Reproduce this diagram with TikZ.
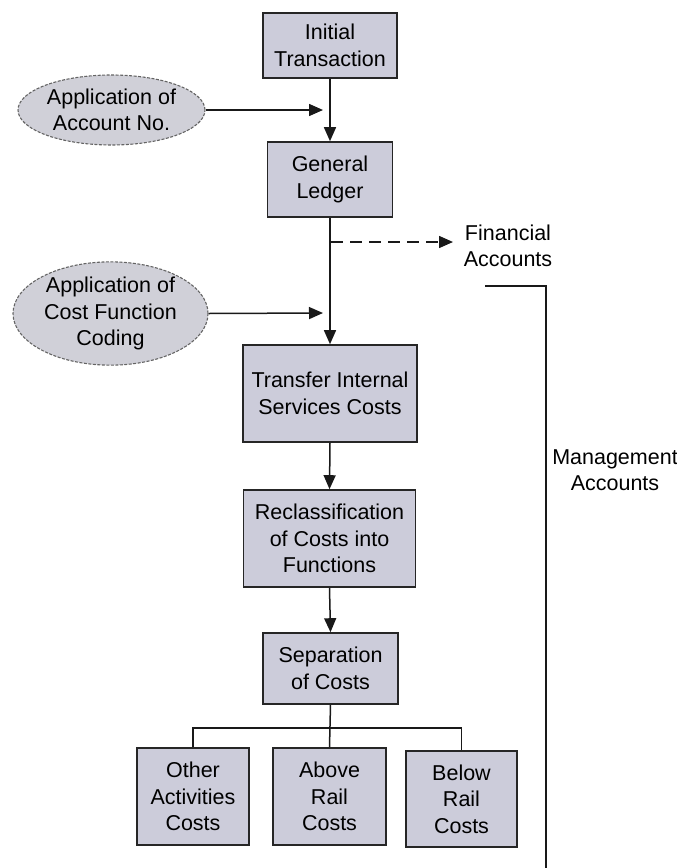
\documentclass[tikz,border=0pt]{standalone}
\usepackage{fontspec}
\setmainfont{Liberation Sans}
\usetikzlibrary{arrows.meta,shapes.geometric}
\definecolor{boxfill}{RGB}{204,204,218}
\definecolor{ellfill}{RGB}{208,208,216}
\definecolor{ellline}{RGB}{100,100,100}
\tikzset{
  procbox/.style={draw=black!85, line width=1.6pt, fill=boxfill, align=center, inner sep=0pt},
  ellbox/.style={ellipse, draw=ellline, dash pattern=on 3pt off 1.5pt, line width=1.1pt, fill=ellfill, align=center, inner sep=0pt},
  plain/.style={align=center, inner sep=0pt},
  conn/.style={line width=1.5pt, black!90},
  arr/.style={conn, -{Triangle[length=14pt,width=12pt]}},
  darr/.style={arr, dash pattern=on 12pt off 7pt},
}
\begin{document}
\begin{tikzpicture}[x=1pt,y=-1pt, font=\fontsize{21.5}{26.5}\selectfont]
\useasboundingbox (0,0) rectangle (677,868);
% process boxes
\node[procbox, minimum width=134pt, minimum height=65pt] (init) at (330,45.5) {Initial\\Transaction};
\node[procbox, minimum width=125pt, minimum height=75pt] (gl) at (330,179.5) {General\\Ledger};
\node[procbox, minimum width=174pt, minimum height=97pt] (tisc) at (330,393.5) {Transfer Internal\\Services Costs};
\node[procbox, minimum width=172pt, minimum height=97pt] (recl) at (329.5,538.5) {Reclassification\\of Costs into\\Functions};
\node[procbox, minimum width=135pt, minimum height=71pt] (sep) at (330.5,668.5) {Separation\\of Costs};
\node[procbox, minimum width=112pt, minimum height=97pt] (oth) at (193,796.5) {Other\\Activities\\Costs};
\node[procbox, minimum width=113pt, minimum height=97pt] (abv) at (329.5,796.5) {Above\\Rail\\Costs};
\node[procbox, minimum width=111pt, minimum height=96pt] (blw) at (461.5,799) {Below\\Rail\\Costs};
% ellipses
\node[ellbox, minimum width=187pt, minimum height=70pt] (ell1) at (111.5,110) {Application of\\Account No.};
\node[ellbox, minimum width=195pt, minimum height=97pt] (ell2) at (110.5,313.5) {Application of\\Cost Function\\Coding};
% plain labels
\node[plain] (fin) at (508,246) {Financial\\Accounts};
\node[plain] (mgmt) at (615,470) {Management\\Accounts};
% coordinates
\coordinate (j1) at (323,110);
\coordinate (j2) at (323,313);
\coordinate (d0) at (331,242);
\coordinate (d1) at (453,242);
\coordinate (m1) at (485,286);
\coordinate (m2) at (546,286);
\coordinate (m3) at (546,868);
\coordinate (bus) at (330.5,728);
% connectors
\draw[arr] (init.south) -- (gl.north);
\draw[arr] (ell1.east) -- (j1);
\draw[arr] (gl.south) -- (tisc.north);
\draw[arr] (ell2.east) -- (j2);
\draw[darr] (d0) -- (d1);
\draw[arr] (tisc.south) -- (recl.north);
\draw[arr] (recl.south) -- (sep.north);
\draw[conn] (sep.south) -- (abv.north);
\draw[conn] (oth.north) |- (bus) -| (blw.north);
\draw[conn] (m1) -- (m2) -- (m3);
\end{tikzpicture}
\end{document}
